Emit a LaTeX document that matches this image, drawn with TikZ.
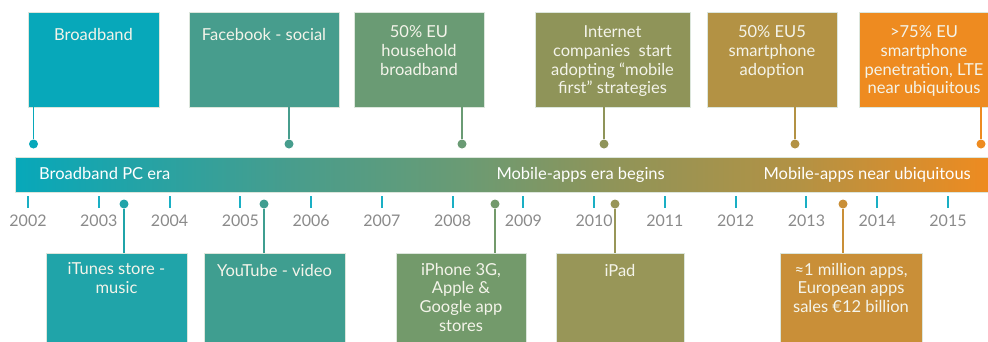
\documentclass[tikz,border=0pt]{standalone}
\usepackage{fontspec}
\setmainfont{Lato}
\usetikzlibrary{positioning}
\definecolor{cBband}{HTML}{07A8BA}
\definecolor{cFbook}{HTML}{479D8D}
\definecolor{cHouse}{HTML}{6A9B74}
\definecolor{cFirst}{HTML}{8F9459}
\definecolor{cSmart}{HTML}{B39244}
\definecolor{cLte}{HTML}{EE8B20}
\definecolor{cItunes}{HTML}{20A4A9}
\definecolor{cTube}{HTML}{3F9E90}
\definecolor{cIphone}{HTML}{739A6B}
\definecolor{cIpad}{HTML}{989658}
\definecolor{cApps}{HTML}{C98F38}
\definecolor{cTick}{HTML}{1AAFC4}
\definecolor{cYear}{HTML}{8A8A8A}
\definecolor{txt}{HTML}{F4F4EA}
\definecolor{edge}{HTML}{DCE6DC}
\pgfdeclarehorizontalshading{eras}{100bp}{color(0bp)=(cBband); color(25bp)=(cBband);
  color(39bp)=(cFbook); color(48bp)=(cHouse); color(55.6bp)=(cFirst);
  color(65.3bp)=(cSmart); color(75bp)=(cLte); color(100bp)=(cLte)}
\tikzset{
  evbox/.style={rectangle, fill=#1, draw=edge, line width=0.6pt, minimum height=95, inner sep=0pt},
  evtext/.style={text=txt, align=center, inner sep=0pt, anchor=north, font=\fontsize{16.5}{18.7}\selectfont},
  dot/.style={circle, fill=#1, minimum size=9, inner sep=0pt},
  stem/.style={draw=#1, line width=1.5pt},
  tick/.style={draw=cTick, line width=2pt},
  year/.style={text=cYear, inner sep=0pt, anchor=base, font=\fontsize{16}{18}\selectfont},
  eralabel/.style={text=white, inner sep=0pt, anchor=base west, font=\fontsize{16.5}{18}\selectfont}
}
\begin{document}
\begin{tikzpicture}[x=1pt,y=-1pt]
\useasboundingbox (0,0) rectangle (988,341);
\clip (0,0) rectangle (988,341);
\node[rectangle, shading=eras, draw=edge, line width=0.6pt, minimum width=973, minimum height=35, inner sep=0pt] (bar) at (501.5,174.5) {};
\node[eralabel] (pcera) at (39,179) {Broadband PC era};
\node[eralabel, anchor=base east] (appsbegin) at (665,179) {Mobile-apps era begins};
\node[eralabel, anchor=base east] (appsubiq) at (971,179) {Mobile-apps near ubiquitous};
\foreach \yr [count=\i from 0] in {2002,...,2015}{
  \draw[tick] (28+70.77*\i,196) -- (28+70.77*\i,208);
  \node[year] (y\yr) at (28+70.77*\i,226) {\yr};
}
\node[evbox=cBband, minimum width=131] (bband) at (93.5,59.5) {};
\node[evtext] (bband-t) at ([yshift=-16]bband.north) {Broadband};
\node[dot=cBband] (bband-d) at (33.5,144) {};
\draw[stem=cBband] (bband-d) -- (bband-d |- bband.south);
\node[evbox=cFbook, minimum width=150] (fbook) at (264,59.5) {};
\node[evtext] (fbook-t) at ([yshift=-16]fbook.north) {Facebook - social};
\node[dot=cFbook] (fbook-d) at (289,144) {};
\draw[stem=cFbook] (fbook-d) -- (fbook-d |- fbook.south);
\node[evbox=cHouse, minimum width=130] (house) at (419,59.5) {};
\node[evtext] (house-t) at ([yshift=-14]house.north) {50\% EU\\household\\broadband};
\node[dot=cHouse] (house-d) at (462,144) {};
\draw[stem=cHouse] (house-d) -- (house-d |- house.south);
\node[evbox=cFirst, minimum width=155] (first) at (612.5,59.5) {};
\node[evtext] (first-t) at ([yshift=-14]first.north) {Internet\\companies\ \ start\\adopting “mobile\\first” strategies};
\node[dot=cFirst] (first-d) at (604,144) {};
\draw[stem=cFirst] (first-d) -- (first-d |- first.south);
\node[evbox=cSmart, minimum width=130] (smart) at (772,59.5) {};
\node[evtext] (smart-t) at ([yshift=-14]smart.north) {50\% EU5\\smartphone\\adoption};
\node[dot=cSmart] (smart-d) at (795,144) {};
\draw[stem=cSmart] (smart-d) -- (smart-d |- smart.south);
\node[evbox=cLte, minimum width=130] (lte) at (924,59.5) {};
\node[evtext] (lte-t) at ([yshift=-14]lte.north) {>75\% EU\\smartphone\\penetration, LTE\\near ubiquitous};
\node[dot=cLte] (lte-d) at (981,144) {};
\draw[stem=cLte] (lte-d) -- (lte-d |- lte.south);
\node[evbox=cItunes, minimum width=141] (itunes) at (116.5,300.5) {};
\node[evtext] (itunes-t) at ([yshift=-10]itunes.north) {iTunes store -\\music};
\node[dot=cItunes] (itunes-d) at (124,204) {};
\draw[stem=cItunes] (itunes-d) -- (itunes-d |- itunes.north);
\node[evbox=cTube, minimum width=141] (tube) at (274.5,300.5) {};
\node[evtext] (tube-t) at ([yshift=-11]tube.north) {YouTube - video};
\node[dot=cTube] (tube-d) at (264,204) {};
\draw[stem=cTube] (tube-d) -- (tube-d |- tube.north);
\node[evbox=cIphone, minimum width=130] (iphone) at (461,300.5) {};
\node[evtext] (iphone-t) at ([yshift=-10]iphone.north) {iPhone 3G,\\Apple \&\\Google app\\stores};
\node[dot=cIphone] (iphone-d) at (495,204) {};
\draw[stem=cIphone] (iphone-d) -- (iphone-d |- iphone.north);
\node[evbox=cIpad, minimum width=128] (ipad) at (620,300.5) {};
\node[evtext] (ipad-t) at ([yshift=-11]ipad.north) {iPad};
\node[dot=cIpad] (ipad-d) at (615,204) {};
\draw[stem=cIpad] (ipad-d) -- (ipad-d |- ipad.north);
\node[evbox=cApps, minimum width=142] (apps) at (851,300.5) {};
\node[evtext] (apps-t) at ([yshift=-10]apps.north) {≈1 million apps,\\European apps\\sales €12 billion};
\node[dot=cApps] (apps-d) at (843,204) {};
\draw[stem=cApps] (apps-d) -- (apps-d |- apps.north);
\end{tikzpicture}
\end{document}
